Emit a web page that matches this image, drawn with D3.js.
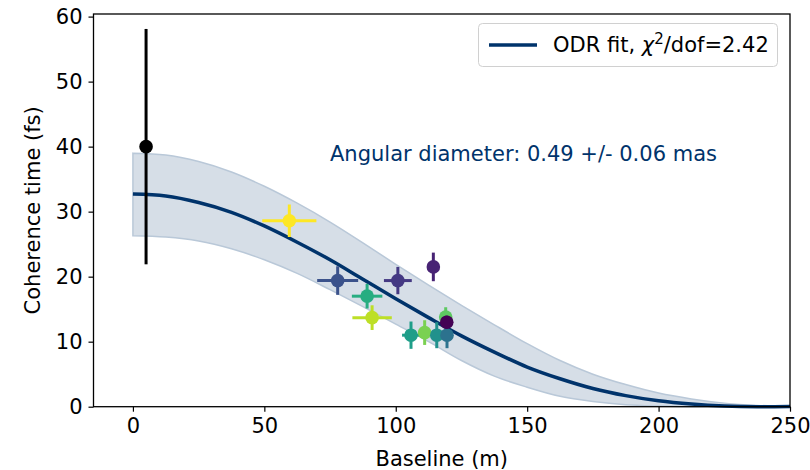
<!DOCTYPE html>
<html>
<head>
<meta charset="utf-8">
<script src="https://cdn.jsdelivr.net/npm/d3@7"></script>
<style>
  body { margin: 0; background: #fff; }
  svg { font-family: "DejaVu Sans", sans-serif; }
</style>
</head>
<body>
<svg id="chart" width="810" height="470"></svg>
<script>
// measured points (baseline in m, coherence time in fs)
var baseline    = [5, 59.5, 77.9, 89.1, 91.0, 100.8, 114.3, 105.8, 111.0, 115.6, 119.5, 119.0, 119.4];
var baselineErr = [0, 10.3, 7.8, 5.8, 7.5, 5.3, 0, 3.4, 2.5, 2, 2, 1, 0];
var tau         = [40.0, 28.6, 19.4, 17.0, 13.7, 19.4, 21.5, 11.0, 11.4, 11.0, 11.0, 13.8, 13.0];
var tauErr      = [18.1, 2.5, 2.2, 1.9, 1.9, 2.1, 2.2, 2.1, 1.9, 2.0, 2.0, 1.5, 1.0];
var pointColours = ['#000000', '#fde725', '#3b528b', '#27ad81', '#bddf26', '#443983', '#482374',
                    '#1f9e89', '#7ad151', '#21918c', '#2c728e', '#5ec962', '#440154'];

// fit curve and its uncertainty band
var fitX     = [0, 12.5, 25, 37.5, 50, 62.5, 75, 87.5, 100, 112.5, 125, 137.5, 150, 162.5, 175, 187.5, 200, 212.5, 225, 237.5, 250];
var fitY     = [32.7, 32.4, 31.4, 29.9, 27.8, 25.3, 22.6, 19.6, 16.6, 13.7, 10.9, 8.4, 6.1, 4.3, 2.8, 1.7, 0.9, 0.4, 0.1, 0.0, 0.05];
var bandHigh = [39.0, 38.7, 37.7, 36.1, 33.9, 31.3, 28.4, 25.2, 21.9, 18.7, 15.6, 12.6, 9.7, 7.1, 5.0, 3.4, 2.1, 1.2, 0.55, 0.2, 0.05];
var bandLow  = [26.3, 26.1, 25.5, 24.3, 22.6, 20.5, 18.0, 15.4, 12.7, 10.0, 7.1, 4.7, 3.0, 1.6, 0.8, 0.3, 0.1, 0.0, 0.0, 0.0, 0.0];

var xTicks = [0, 50, 100, 150, 200, 250];
var yTicks = [0, 10, 20, 30, 40, 50, 60];

var fitColour = '#00336b';
var fontSize = 21;

var svg = d3.select('#chart');
var plot = { left: 93.5, right: 790, top: 14, bottom: 406.7 };

var x = d3.scaleLinear().domain([-15, 250]).range([plot.left, plot.right]);
var y = d3.scaleLinear().domain([0, 60.4]).range([plot.bottom, plot.top]);

// uncertainty band
var band = d3.area()
  .x(function (d, i) { return x(fitX[i]); })
  .y0(function (d, i) { return y(bandLow[i]); })
  .y1(function (d, i) { return y(bandHigh[i]); })
  .curve(d3.curveMonotoneX);

svg.append('path')
  .datum(fitX)
  .attr('d', band)
  .attr('fill', '#d6dee7')
  .attr('stroke', '#b9c8d8')
  .attr('stroke-width', 1.5);

// fit line
var line = d3.line()
  .x(function (d, i) { return x(fitX[i]); })
  .y(function (d, i) { return y(fitY[i]); })
  .curve(d3.curveMonotoneX);

svg.append('path')
  .datum(fitX)
  .attr('d', line)
  .attr('fill', 'none')
  .attr('stroke', fitColour)
  .attr('stroke-width', 3.5);

// error bars and markers
var pts = baseline.map(function (b, i) { return i; });
var g = svg.append('g');
pts.forEach(function (i) {
  var c = pointColours[i];
  if (baselineErr[i] > 0) {
    g.append('line')
      .attr('x1', x(baseline[i] - baselineErr[i])).attr('x2', x(baseline[i] + baselineErr[i]))
      .attr('y1', y(tau[i])).attr('y2', y(tau[i]))
      .attr('stroke', c).attr('stroke-width', 3);
  }
  g.append('line')
    .attr('x1', x(baseline[i])).attr('x2', x(baseline[i]))
    .attr('y1', y(tau[i] - tauErr[i])).attr('y2', y(tau[i] + tauErr[i]))
    .attr('stroke', c).attr('stroke-width', 3);
  g.append('circle')
    .attr('cx', x(baseline[i]))
    .attr('cy', y(tau[i]))
    .attr('r', 6.8)
    .attr('fill', c);
});

// axes
var xAxis = d3.axisBottom(x).tickValues(xTicks).tickSize(5).tickPadding(6);
var yAxis = d3.axisLeft(y).tickValues(yTicks).tickSize(5).tickPadding(6);

svg.append('g')
  .attr('transform', 'translate(0,' + plot.bottom + ')')
  .call(xAxis)
  .call(function (a) { a.select('.domain').remove(); });

svg.append('g')
  .attr('transform', 'translate(' + plot.left + ',0)')
  .call(yAxis)
  .call(function (a) { a.select('.domain').remove(); });

svg.selectAll('.tick text')
  .attr('font-size', fontSize)
  .attr('font-family', '"DejaVu Sans", sans-serif')
  .attr('fill', '#000');
svg.selectAll('.tick line').attr('stroke', '#000').attr('stroke-width', 1.2);

// frame
svg.append('rect')
  .attr('x', plot.left).attr('y', plot.top)
  .attr('width', plot.right - plot.left)
  .attr('height', plot.bottom - plot.top)
  .attr('fill', 'none')
  .attr('stroke', '#000')
  .attr('stroke-width', 1.3);

// axis titles
svg.append('text')
  .attr('x', (plot.left + plot.right) / 2)
  .attr('y', 466)
  .attr('text-anchor', 'middle')
  .attr('font-size', fontSize)
  .text('Baseline (m)');

svg.append('text')
  .attr('transform', 'translate(40,' + (plot.top + plot.bottom) / 2 + ') rotate(-90)')
  .attr('text-anchor', 'middle')
  .attr('font-size', fontSize)
  .text('Coherence time (fs)');

// annotation
svg.append('text')
  .attr('x', 330)
  .attr('y', 161)
  .attr('font-size', fontSize)
  .attr('fill', fitColour)
  .text('Angular diameter: 0.49 +/- 0.06 mas');

// legend
var leg = svg.append('g');
leg.append('rect')
  .attr('x', 478.5).attr('y', 23.5)
  .attr('width', 299).attr('height', 43)
  .attr('rx', 4)
  .attr('fill', '#fff')
  .attr('fill-opacity', 0.8)
  .attr('stroke', '#d0d0d0');
leg.append('line')
  .attr('x1', 489).attr('x2', 537)
  .attr('y1', 45).attr('y2', 45)
  .attr('stroke', fitColour)
  .attr('stroke-width', 3.5);
var lt = leg.append('text')
  .attr('x', 553).attr('y', 52)
  .attr('font-size', fontSize);
lt.append('tspan').text('ODR fit, ');
lt.append('tspan').attr('font-style', 'italic').text('χ');
lt.append('tspan').attr('font-size', 15).attr('dy', -8).text('2');
lt.append('tspan').attr('dy', 8).text('/dof=2.42');
</script>
</body>
</html>
